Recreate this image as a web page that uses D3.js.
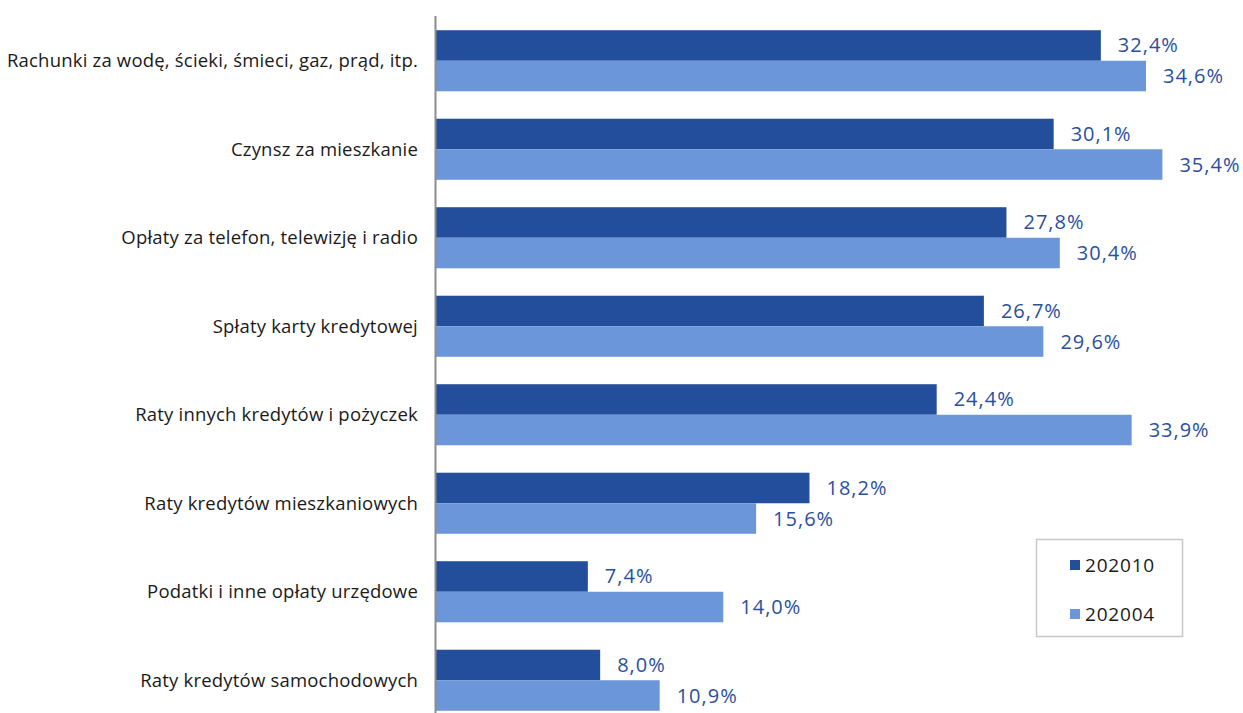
<!DOCTYPE html>
<meta charset="UTF-8">
<style>
body { margin: 0; background: #fff; }
.cat text { font: 18.5px "Open Sans", sans-serif; letter-spacing: 0.2px; fill: #1a1a1a; }
.val { font: 20px "Open Sans", sans-serif; letter-spacing: 1px; fill: #2a4f9e; }
.legend text { font: 19px "Open Sans", sans-serif; letter-spacing: 0.8px; fill: #1a1a1a; }
</style>
<body>
<script src="https://d3js.org/d3.v7.min.js"></script>
<script>
// categories, top to bottom
var categories = [
  "Rachunki za wodę, ścieki, śmieci, gaz, prąd, itp.",
  "Czynsz za mieszkanie",
  "Opłaty za telefon, telewizję i radio",
  "Spłaty karty kredytowej",
  "Raty innych kredytów i pożyczek",
  "Raty kredytów mieszkaniowych",
  "Podatki i inne opłaty urzędowe",
  "Raty kredytów samochodowych"
];
var seriesNames = ["202010", "202004"];
var v202010 = [32.4, 30.1, 27.8, 26.7, 24.4, 18.2, 7.4, 8.0];
var v202004 = [34.6, 35.4, 30.4, 29.6, 33.9, 15.6, 14.0, 10.9];
var colors = ["#224e9b", "#6b97da"];

var W = 1243, H = 713;
var x0 = 436;

var svg = d3.select("body").append("svg")
    .attr("width", W).attr("height", H);

var x = d3.scaleLinear().domain([0, 10]).range([x0, x0 + 205.2]);

var y = d3.scaleBand()
    .domain(categories)
    .range([16.5, 724.5])
    .paddingInner(0.31)
    .paddingOuter(0.155);

var y1 = d3.scaleBand()
    .domain(seriesNames)
    .range([0, y.bandwidth()]);

var rows = categories.map(function(c, i) {
  return { cat: c, vals: [v202010[i], v202004[i]] };
});

var g = svg.selectAll(".grp")
    .data(rows)
  .enter().append("g")
    .attr("transform", function(d) { return "translate(0," + y(d.cat) + ")"; });

g.selectAll("rect")
    .data(function(d) { return d.vals.map(function(v, j) { return { s: seriesNames[j], v: v, j: j }; }); })
  .enter().append("rect")
    .attr("x", x(0))
    .attr("y", function(d) { return y1(d.s); })
    .attr("width", function(d) { return x(d.v) - x(0); })
    .attr("height", y1.bandwidth())
    .attr("fill", function(d) { return colors[d.j]; });

g.selectAll(".val")
    .data(function(d) { return d.vals.map(function(v, j) { return { s: seriesNames[j], v: v }; }); })
  .enter().append("text")
    .attr("class", "val")
    .attr("x", function(d) { return x(d.v) + 17; })
    .attr("y", function(d) { return y1(d.s) + y1.bandwidth() / 2; })
    .attr("dy", "0.35em")
    .text(function(d) { return d.v.toFixed(1).replace(".", ",") + "%"; });

// category axis
var axis = svg.append("g")
    .attr("class", "cat")
    .attr("transform", "translate(" + x0 + ",0)")
    .call(d3.axisLeft(y).tickSize(0).tickPadding(18));
axis.select(".domain").remove();
axis.selectAll("text").attr("dy", "0.35em");

svg.append("line")
    .attr("x1", x0 - 0.5).attr("x2", x0 - 0.5)
    .attr("y1", 16).attr("y2", H)
    .attr("stroke", "#8c8c8c").attr("stroke-width", 2);

// legend
var lg = svg.append("g").attr("class", "legend");
lg.append("rect")
    .attr("x", 1036.5).attr("y", 539.5)
    .attr("width", 146).attr("height", 97)
    .attr("fill", "#fff").attr("stroke", "#c8c8c8").attr("stroke-width", 1.5);
var li = lg.selectAll(".li")
    .data(seriesNames)
  .enter().append("g")
    .attr("transform", function(d, i) { return "translate(1070," + (565 + i * 49) + ")"; });
li.append("rect")
    .attr("x", 0).attr("y", -5).attr("width", 10).attr("height", 10)
    .attr("fill", function(d, i) { return colors[i]; });
li.append("text")
    .attr("x", 15).attr("dy", "0.35em")
    .text(function(d) { return d; });
</script>
</body>
